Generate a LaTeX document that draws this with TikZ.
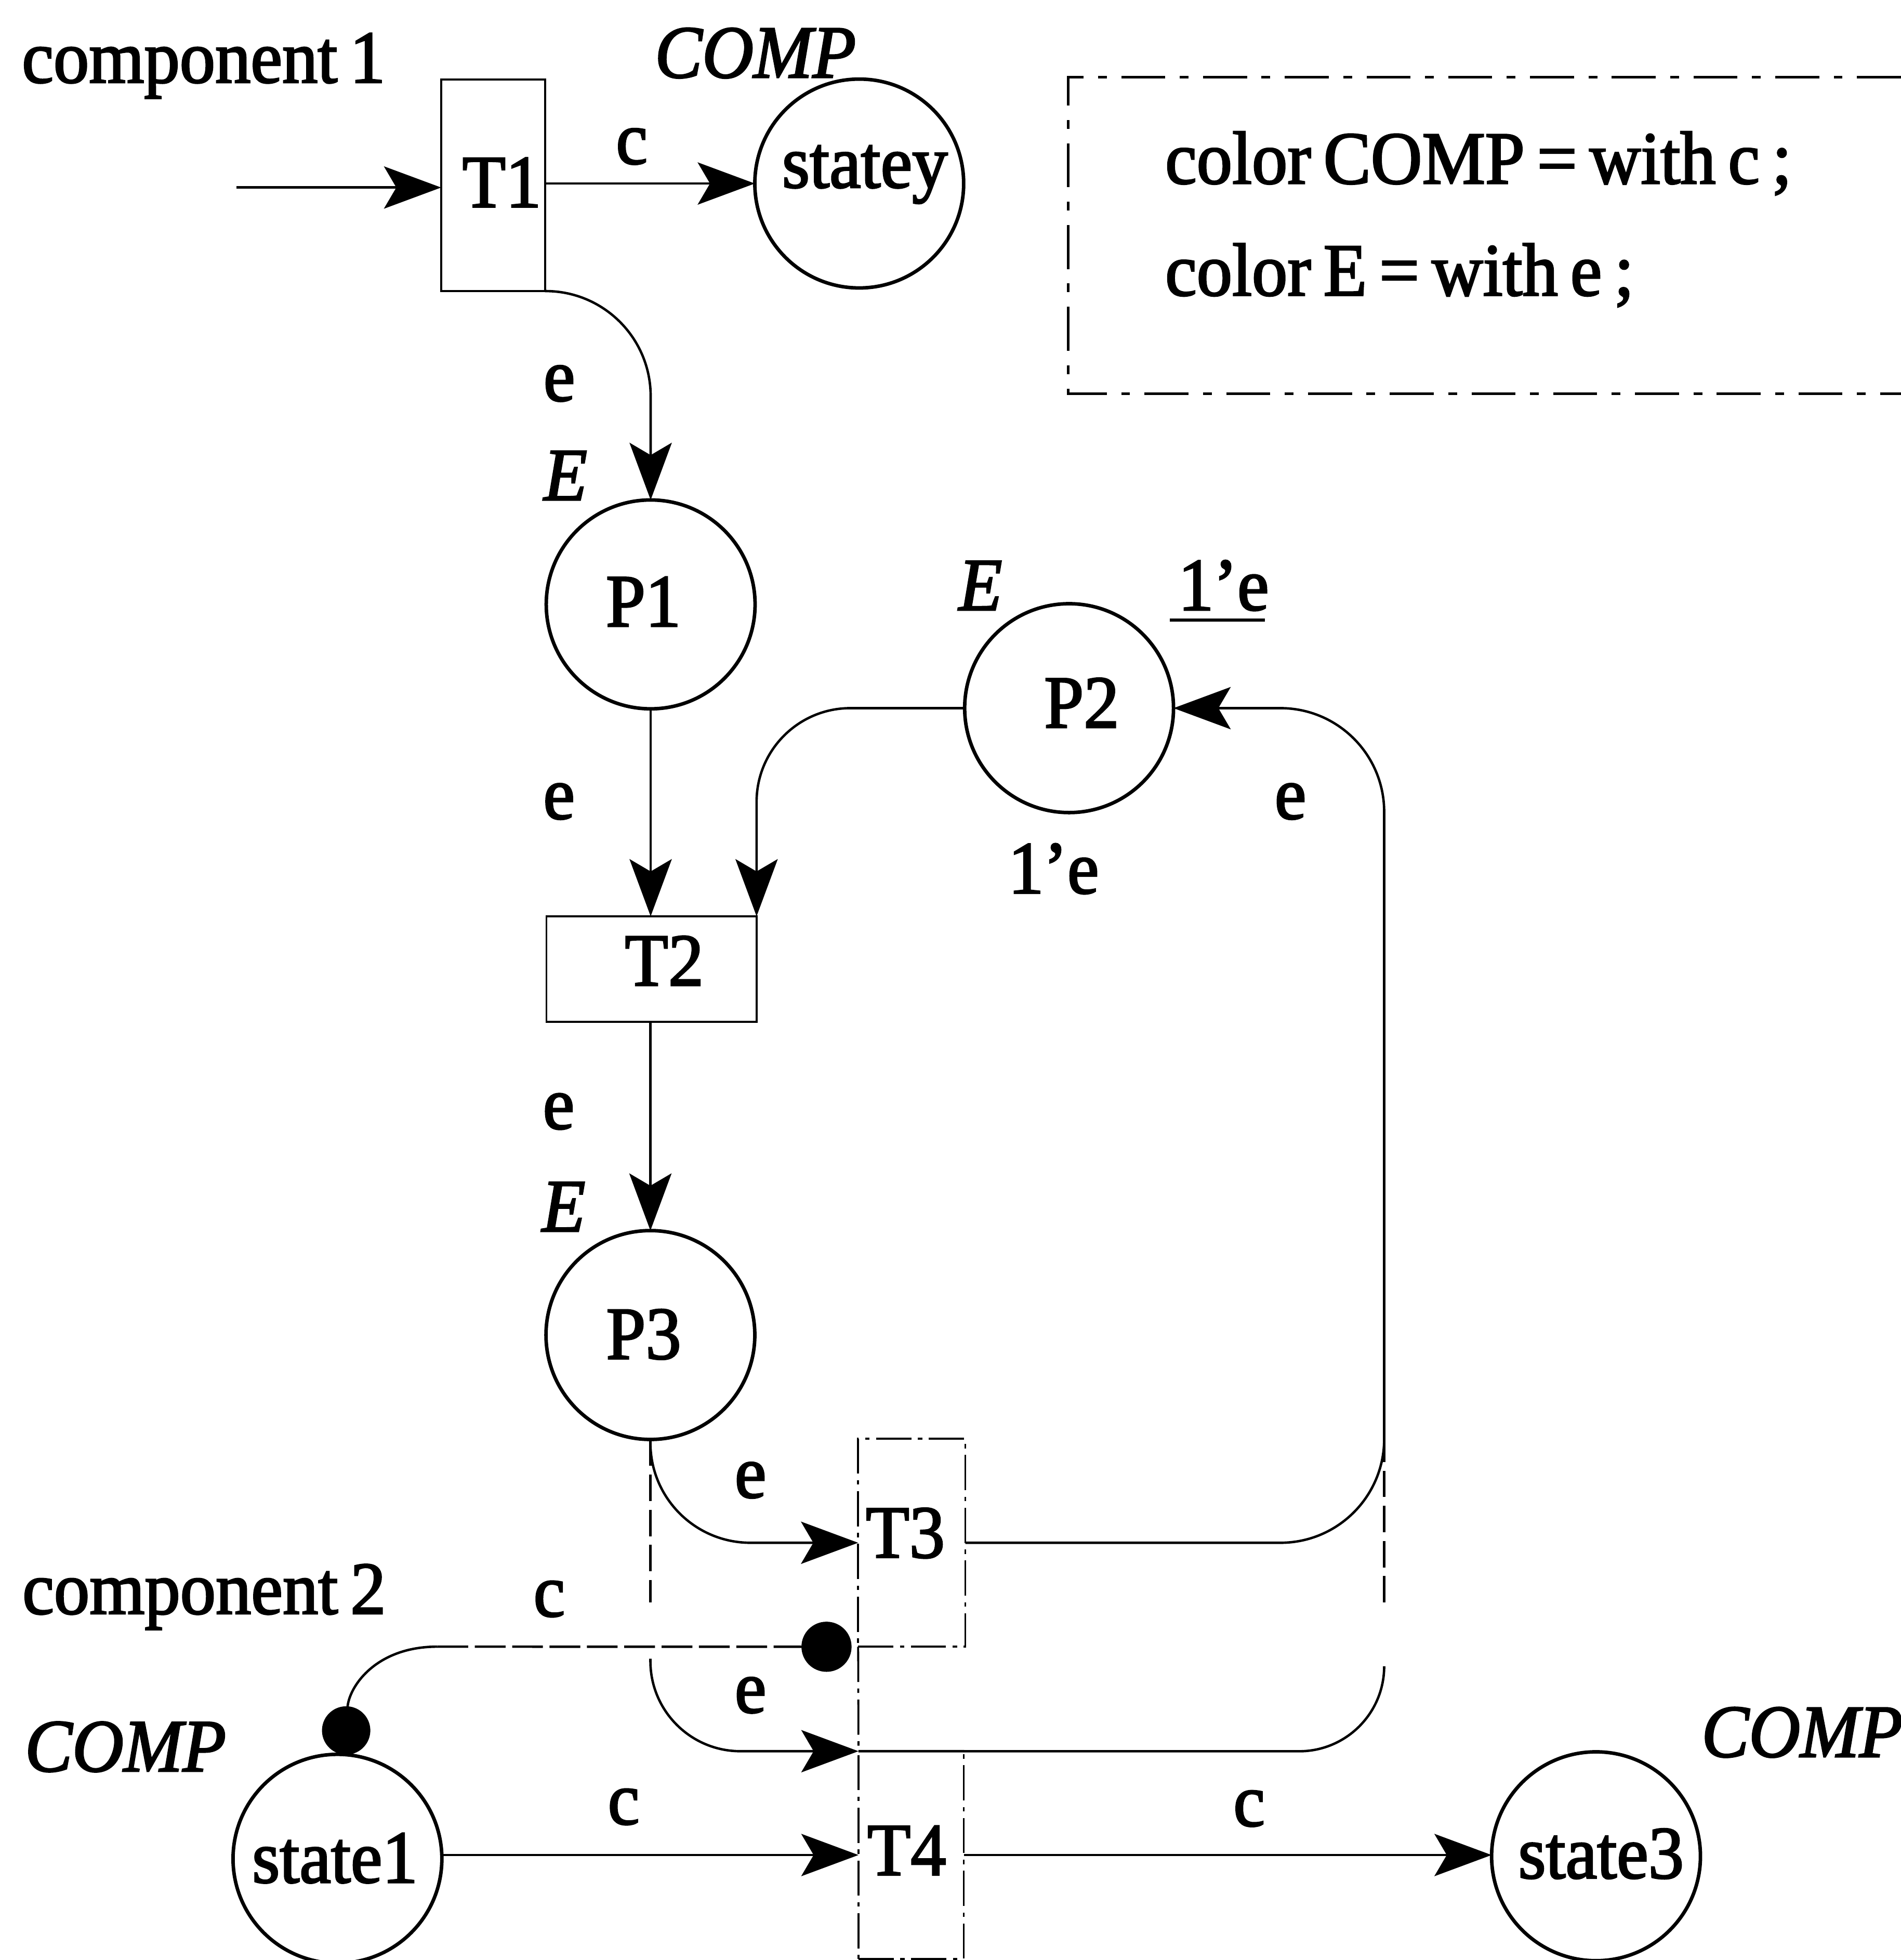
\documentclass[tikz,border=0pt]{standalone}
\usepackage{fontspec}
\setmainfont{Liberation Serif}[FakeStretch=0.95, WordSpace=0.7, FakeBold=2.2]
\usetikzlibrary{arrows.meta}

\begin{document}
\begin{tikzpicture}[x=0.01cm, y=-0.01cm,
  every node/.style={inner sep=0pt, outer sep=0pt},
  txt/.style={font=\fontsize{17pt}{20pt}\selectfont, anchor=base},
  ital/.style={font=\fontsize{17pt}{20pt}\selectfont\itshape, anchor=base},
  place/.style={circle, draw, line width=0.8pt, minimum size=1.67cm},
  trans/.style={rectangle, draw, line width=0.45pt},
  transd/.style={rectangle, draw, line width=0.45pt,
    dash pattern=on 8pt off 1.5pt on 1pt off 1.5pt},
  line/.style={line width=0.55pt},
  arc/.style={line, -{Stealth[length=13pt, width=9.6pt, inset=2.8pt]}},
  hidden/.style={line, dash pattern=on 6pt off 2pt},
  inhib/.style={line, dash pattern=on 7pt off 1.5pt},
  legend/.style={line width=0.6pt, dash pattern=on 10pt off 3.3pt on 2pt off 3.3pt}
]
\useasboundingbox (0,0) rectangle (1521,1568);

% places and transitions
\node[trans, minimum width=0.83cm, minimum height=1.69cm] (T1) at (394.5,148.3) {};
\node[place] (statey) at (687.5,146.8) {};
\node[place] (P1) at (520.6,483.5) {};
\node[place] (P2) at (855.4,566.5) {};
\node[trans, minimum width=1.68cm, minimum height=0.845cm] (T2) at (521.3,775.3) {};
\node[place] (P3) at (520.4,1068) {};
\node[transd, minimum width=0.857cm, minimum height=1.663cm] (T3) at (729.5,1234.2) {};
\node[transd, minimum width=0.842cm, minimum height=1.66cm] (T4) at (729,1484) {};
\node[place] (state1) at (270,1487) {};
\node[place] (state3) at (1277,1485) {};
\draw[transd] (T3.south west) -- (T4.north west);

% names inside the nodes
\node[txt] (nT1) at (401.5,165.6) {T1};
\node[txt] (nstatey) at (692,150) {statey};
\node[txt] (nP1) at (514.8,501) {P1};
\node[txt] (nP2) at (865.5,582) {P2};
\node[txt] (nT2) at (531.5,788.4) {T2};
\node[txt] (nP3) at (515,1087) {P3};
\node[txt] (nT3) at (724.4,1246) {T3};
\node[txt] (nT4) at (725.5,1500) {T4};
\node[txt] (nstate1) at (268,1506) {state1};
\node[txt] (nstate3) at (1281,1502.5) {state3};

% colour sets, component names and markings
\node[txt, anchor=base west] (comp1) at (17.6,66) {component 1};
\node[txt, anchor=base west] (comp2) at (18,1291) {component 2};
\node[ital, anchor=base west] (cstatey) at (524,62) {COMP};
\node[ital, anchor=base west] (cstate1) at (20,1417) {COMP};
\node[ital, anchor=base west] (cstate3) at (1361.5,1405.4) {COMP};
\node[ital] (cP1) at (452.5,400) {E};
\node[ital] (cP2) at (784.5,488) {E};
\node[ital] (cP3) at (451,985) {E};
\node[txt] (mP2) at (979,488) {1’e};
\draw[line width=0.7pt] (936,496) -- (1012,496);

% arc inscriptions
\node[txt] (a1) at (505.5,131) {c};
\node[txt] (a2) at (447.5,320.6) {e};
\node[txt] (a3) at (447.3,655) {e};
\node[txt] (a4) at (1032.5,655) {e};
\node[txt] (a5) at (843,714.6) {1’e};
\node[txt] (a6) at (447,903) {e};
\node[txt] (a7) at (600.5,1198) {e};
\node[txt] (a8) at (439.5,1293) {c};
\node[txt] (a9) at (600.5,1370) {e};
\node[txt] (a10) at (499,1459.3) {c};
\node[txt] (a11) at (999.5,1460.7) {c};

% declarations
\draw[legend] (1521,61.6) -- (854.5,61.6) -- (854.5,315) -- (1521,315);
\node[txt, anchor=base west] (decl1) at (932.3,146.8) {color COMP = with c ;};
\node[txt, anchor=base west] (decl2) at (932.3,236.3) {color E = with e ;};

% arcs of component 1
\coordinate (src) at (189,150);
\draw[arc] (src) -- (src -| T1.west);
\draw[arc] (T1.east |- statey.west) -- (statey.west);
\draw[arc, rounded corners=0.84cm] (T1.south east) -| (P1.north);
\draw[arc] (P1.south) -- (P1.south |- T2.north);
\draw[arc, rounded corners=0.75cm] (P2.west) -| (T2.north east);
\draw[arc] (T2.south -| P3.north) -- (P3.north);
\draw[arc, rounded corners=0.8cm] (P3.south) |- (T3.west);
\coordinate (r1) at (1107.5,1234.2);
\draw[arc, rounded corners=0.83cm] (T3.east) -- (r1) -- (r1 |- P2.east) -- (P2.east);

% arcs of component 2
\coordinate (gA) at (520.4,1282);
\coordinate (gB) at (520.4,1327);
\draw[hidden] (P3.south) -- (gA);
\draw[arc, rounded corners=0.72cm] (gB) |- (T4.north west);
\coordinate (r2) at (1107.5,1401);
\coordinate (gC) at (1107.5,1333);
\coordinate (gD) at (1107.5,1282);
\draw[line, rounded corners=0.68cm] (T4.north west) -- (r2) -- (gC);
\draw[hidden] (gD) -- (gD |- T3.north);
\coordinate (hA) at (350,1317.3);
\draw[line, {Circle[length=11pt]}-] (state1.86) .. controls (279,1350) and (300,1317.3) .. (hA);
\draw[inhib, -{Circle[length=11.4pt]}, shorten >=1.5pt] (hA) -- (T3.south west);
\draw[arc] (state1.east |- T4.west) -- (T4.west);
\draw[arc] (T4.east) -- (T4.east -| state3.west);
\end{tikzpicture}
\end{document}
